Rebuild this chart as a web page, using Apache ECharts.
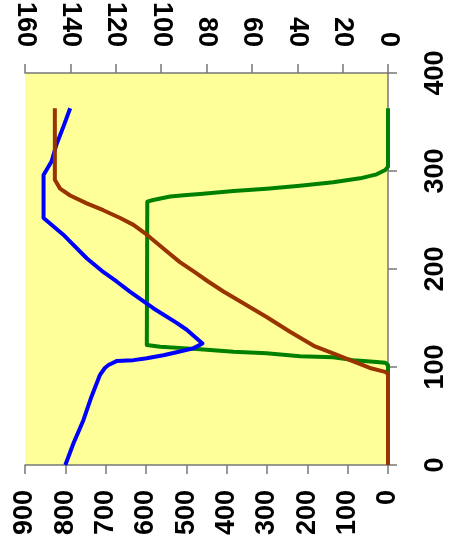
<!DOCTYPE html>
<html>
<head>
<meta charset="utf-8">
<script src="https://cdn.jsdelivr.net/npm/echarts@6/dist/echarts.min.js"></script>
<style>html,body{margin:0;padding:0;background:#fff;}#c{width:450px;height:560px;}</style>
</head>
<body>
<div id="c"></div>
<script>
// Position along the 0-400 axis (right axis) and values
const blueX = [0, 22, 46, 70, 92, 99, 102, 106, 107, 109, 112, 115, 119, 124, 138, 145, 160, 177, 187, 197, 211, 228, 235, 252, 296, 310, 327, 345, 364];
const blueV = [800, 780, 755, 735, 714, 702, 693, 673, 631, 598, 557, 524, 483, 460, 499, 524, 582, 640, 672, 706, 747, 788, 805, 854, 854, 834, 822, 805, 788];

const brownX = [0, 93, 95, 99, 107, 114, 121, 126, 136, 151, 167, 177, 187, 197, 207, 221, 235, 245, 252, 260, 267, 275, 282, 291, 364];
const brownV = [0, 0, 7, 45, 94, 136, 181, 202, 243, 301, 367, 408, 445, 480, 516, 557, 598, 631, 664, 706, 747, 788, 813, 826, 826];

const greenX = [0, 102, 104.4, 105.4, 107, 110, 111, 114, 115.6, 118, 119, 120.7, 122.4, 268.7, 270.4, 274, 275.5, 276.5, 279.6, 282, 285, 288.5, 292.5, 296.6, 301, 304.4, 364];
const greenW = [0, 0, 1.2, 6.4, 15.3, 24.2, 38.8, 53.5, 68.1, 82.8, 88.7, 100.4, 106.3, 106.1, 103.5, 96, 88.7, 82.8, 68.1, 53.5, 38.8, 24.2, 12.3, 5, 1.2, 0, 0];

const bottomTicks = {min: 0, max: 900, interval: 100};
const topTicks = {min: 0, max: 160, interval: 20};
const rightTicks = {min: 0, max: 400, interval: 100};

const pair = (vs, xs) => vs.map((v, i) => [v, xs[i]]);

const labelStyle = {color: '#000', fontWeight: 'bold', fontSize: 27, fontFamily: 'Liberation Sans, Arial, sans-serif', rotate: 90};
const axisLine = {show: true, lineStyle: {color: '#777', width: 1.5}};
const axisTick = {show: true, inside: false, length: 9, lineStyle: {color: '#777', width: 1.5}};

const chart = echarts.init(document.getElementById('c'), null, {renderer: 'canvas'});
chart.setOption({
  animation: false,
  backgroundColor: '#fff',
  grid: {left: 25, right: 62, top: 73, bottom: 95, show: true, backgroundColor: '#FFFF99', borderWidth: 0, outerBoundsMode: 'none'},
  xAxis: [
    {type: 'value', position: 'bottom', inverse: true, min: bottomTicks.min, max: bottomTicks.max, interval: bottomTicks.interval,
     axisLine: axisLine, axisTick: axisTick, splitLine: {show: false},
     axisLabel: Object.assign({margin: 25}, labelStyle)},
    {type: 'value', position: 'top', inverse: true, min: topTicks.min, max: topTicks.max, interval: topTicks.interval,
     axisLine: axisLine, axisTick: axisTick, splitLine: {show: false},
     axisLabel: Object.assign({margin: 26}, labelStyle)}
  ],
  yAxis: [
    {type: 'value', position: 'right', min: rightTicks.min, max: rightTicks.max, interval: rightTicks.interval,
     axisLine: axisLine, axisTick: axisTick, splitLine: {show: false},
     axisLabel: Object.assign({margin: 34, alignMaxLabel: 'center', alignMinLabel: 'center'}, labelStyle)}
  ],
  series: [
    {type: 'line', xAxisIndex: 1, yAxisIndex: 0, data: pair(greenW, greenX), showSymbol: false, symbol: 'none',
     lineStyle: {color: '#008000', width: 4, join: 'round'}, z: 2},
    {type: 'line', xAxisIndex: 0, yAxisIndex: 0, data: pair(blueV, blueX), showSymbol: false, symbol: 'none',
     lineStyle: {color: '#0000FF', width: 4, join: 'round'}, z: 3},
    {type: 'line', xAxisIndex: 0, yAxisIndex: 0, data: pair(brownV, brownX), showSymbol: false, symbol: 'none',
     lineStyle: {color: '#993300', width: 4, join: 'round'}, z: 4}
  ]
});
</script>
</body>
</html>
